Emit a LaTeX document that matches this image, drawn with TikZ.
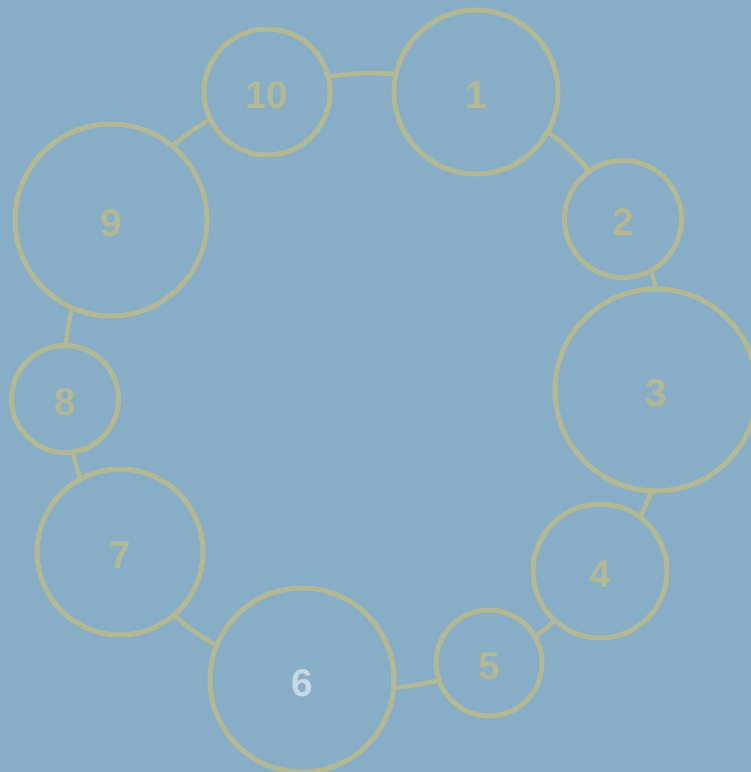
\documentclass[tikz,border=0pt]{standalone}
\usepackage{fontspec}
\setmainfont{Liberation Sans}
\usetikzlibrary{backgrounds}

\definecolor{bgblue}{RGB}{136,174,199}
\definecolor{olive}{RGB}{178,185,148}
\definecolor{paleblue}{RGB}{198,217,229}

\begin{document}
\begin{tikzpicture}[x=0.02cm, y=0.02cm,
  ball/.style={draw=olive, line width=0.1cm, fill=bgblue, circle, inner sep=0pt,
    minimum size=#1, text=olive, text height=0.68cm, text depth=0pt,
    font=\fontsize{22}{26}\selectfont\bfseries},
  link/.style={draw=olive, line width=0.09cm, bend left=#1}]

  \clip (0,0) rectangle (751,772);

  \node [ball=3.28cm] (n1) at (476,680) {1};
  \node [ball=2.34cm] (n2) at (623,553) {2};
  \node [ball=4.04cm] (n3) at (656,382) {3};
  \node [ball=2.68cm] (n4) at (600,201) {4};
  \node [ball=2.12cm] (n5) at (489,109) {5};
  \node [ball=3.68cm, text=paleblue] (n6) at (302,92) {6};
  \node [ball=3.32cm] (n7) at (120,220) {7};
  \node [ball=2.14cm] (n8) at (65,373) {8};
  \node [ball=3.84cm] (n9) at (111,552) {9};
  \node [ball=2.52cm] (n10) at (267,680) {10};

  % links run centre to centre, under the circles
  \begin{scope}[on background layer]
    \fill [bgblue] (0,0) rectangle (751,772);
    \draw [link=18] (n1.center) to (n2.center);
    \draw [link=23] (n2.center) to (n3.center);
    \draw [link=27] (n3.center) to (n4.center);
    \draw [link=13] (n4.center) to (n5.center);
    \draw [link=17] (n5.center) to (n6.center);
    \draw [link=20] (n6.center) to (n7.center);
    \draw [link=15] (n7.center) to (n8.center);
    \draw [link=17] (n8.center) to (n9.center);
    \draw [link=18] (n9.center) to (n10.center);
    \draw [link=18] (n10.center) to (n1.center);
  \end{scope}
\end{tikzpicture}
\end{document}
